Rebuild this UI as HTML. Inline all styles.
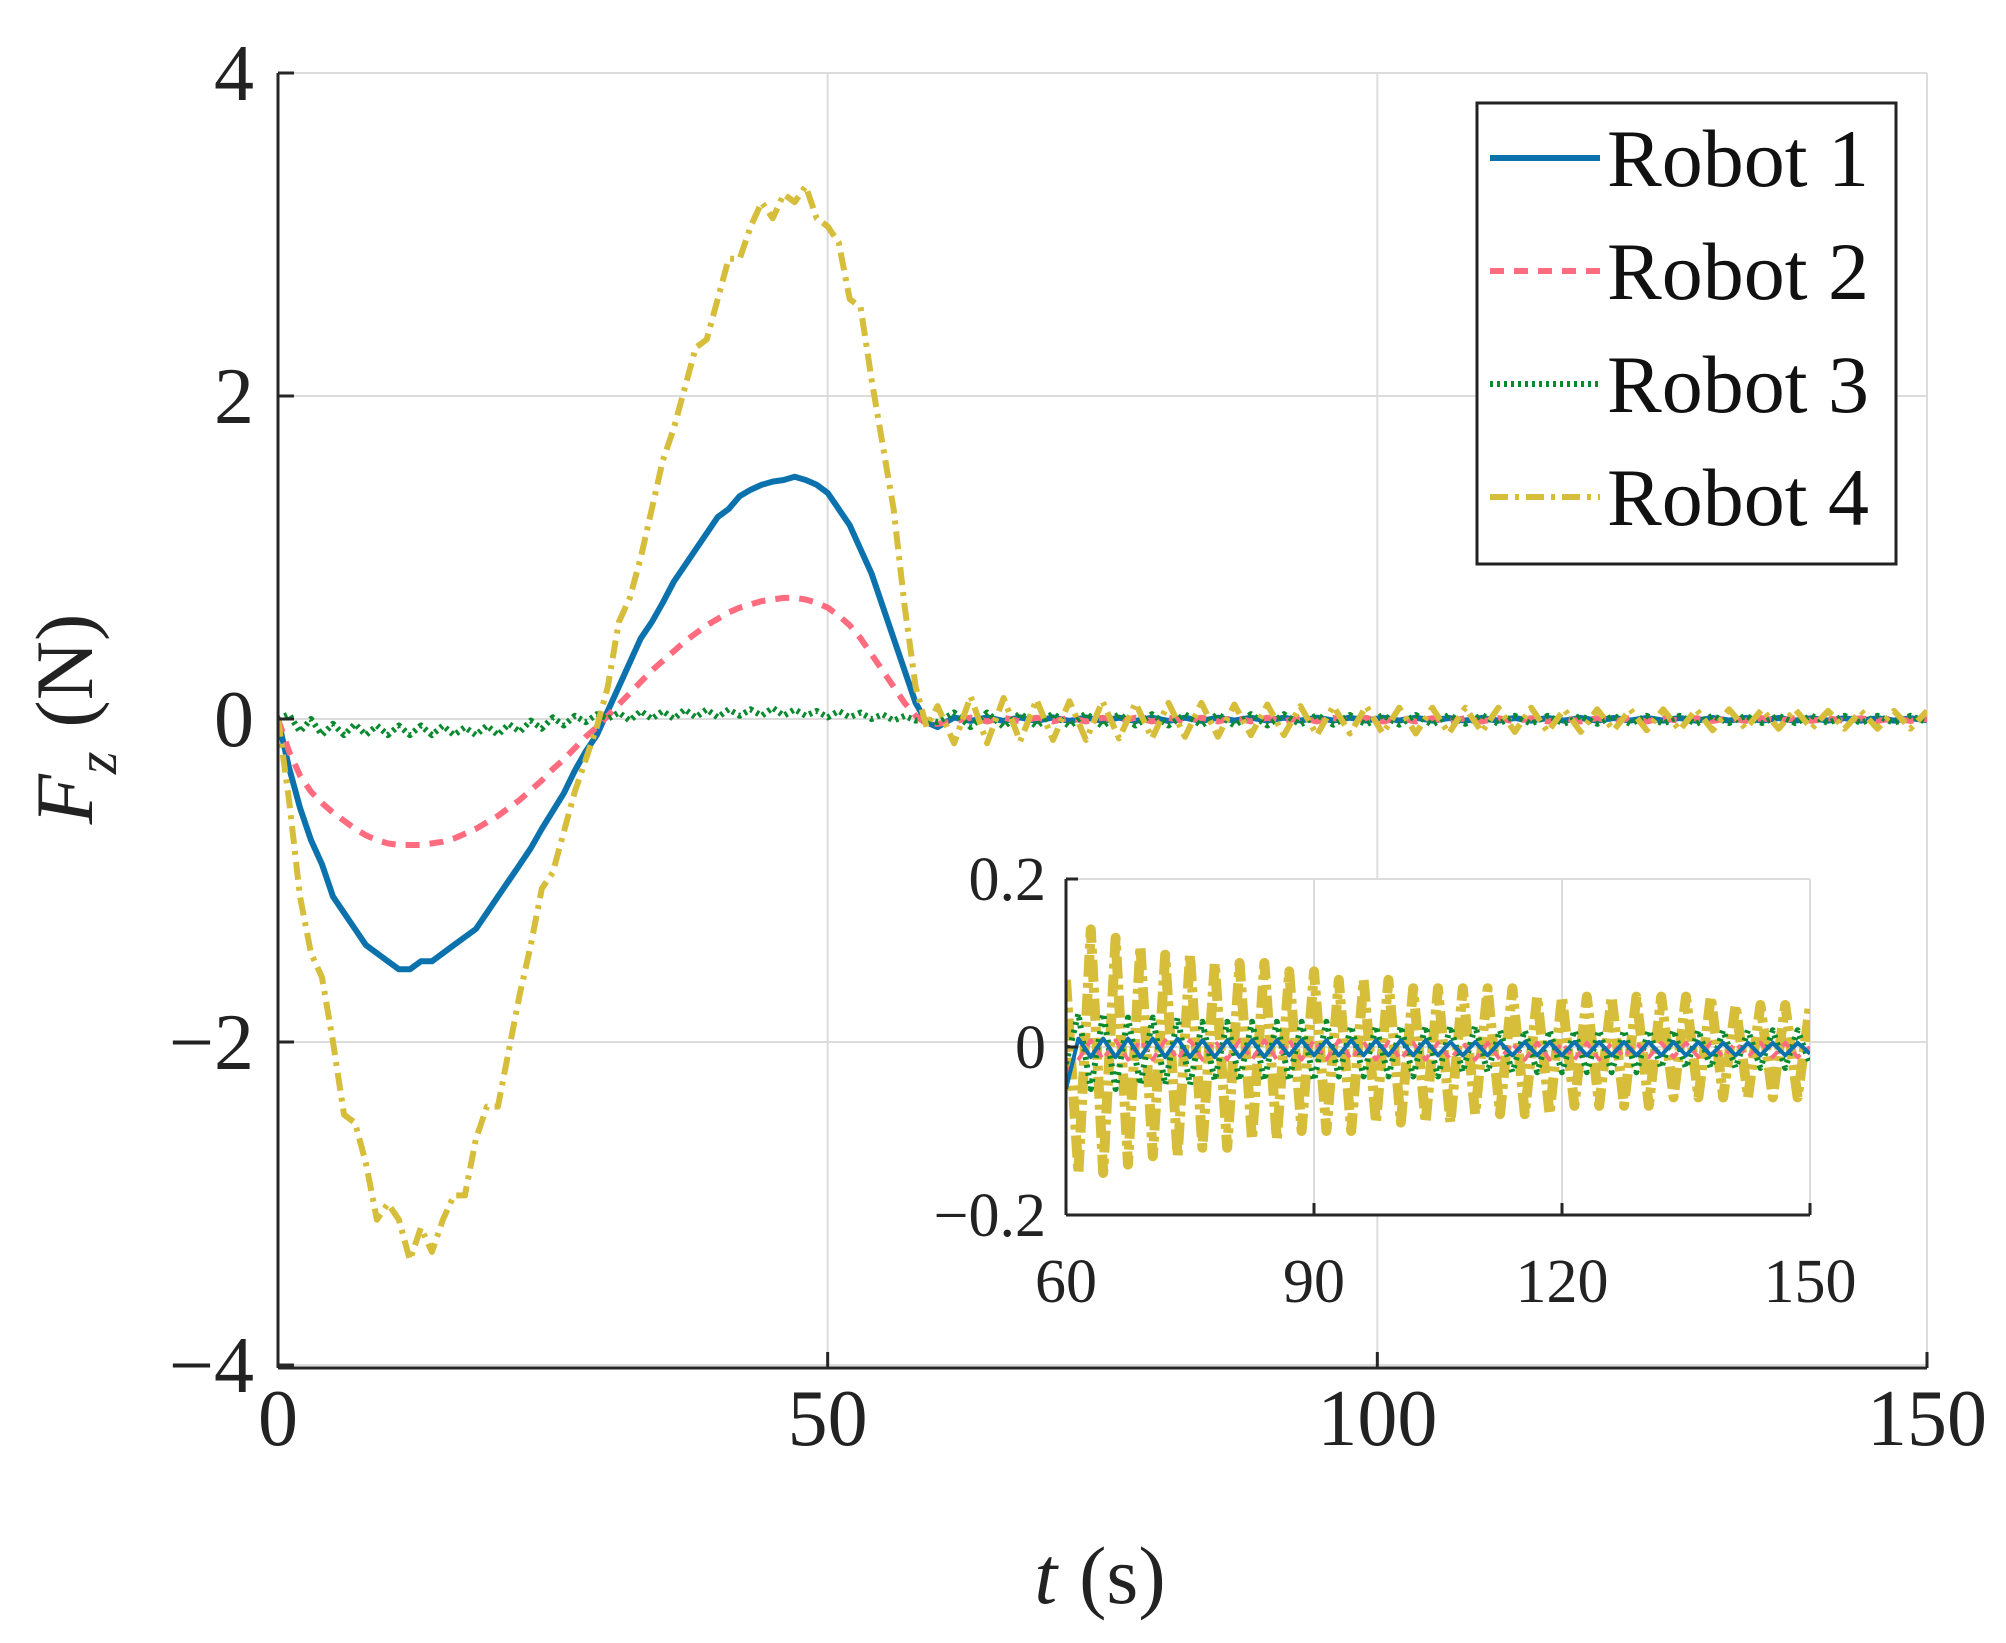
<!DOCTYPE html>
<html><head><meta charset="utf-8"><style>
html,body{margin:0;padding:0;background:#fff;}
svg{display:block;font-family:"Liberation Serif",serif;}
</style></head><body>
<svg id="chart" width="2006" height="1643" viewBox="0 0 2006 1643" xmlns="http://www.w3.org/2000/svg">
<defs>
<clipPath id="mainClip"><rect x="278" y="73" width="1649" height="1295"/></clipPath>
<clipPath id="insetClip"><rect x="1066" y="879" width="744" height="336"/></clipPath>
</defs>
<g id="main"></g>
<g id="inset"></g>
<g id="legend"></g>
</svg>
<script>
const tHead = [];
for (let i = 0; i <= 60; i++) tHead.push(i);
const robot1Head = [0,-0.3,-0.55,-0.75,-0.9,-1.1,-1.2,-1.3,-1.4,-1.45,-1.5,-1.55,-1.55,-1.5,-1.5,-1.45,-1.4,-1.35,-1.3,-1.2,-1.1,-1.0,-0.9,-0.8,-0.68,-0.57,-0.46,-0.32,-0.2,-0.1,0.05,0.2,0.35,0.5,0.6,0.72,0.85,0.95,1.05,1.15,1.25,1.3,1.38,1.42,1.45,1.47,1.48,1.5,1.48,1.45,1.4,1.3,1.2,1.05,0.9,0.7,0.5,0.3,0.1,-0.02,-0.05];
const robot2Head = [0,-0.2,-0.35,-0.45,-0.52,-0.58,-0.63,-0.68,-0.72,-0.75,-0.77,-0.78,-0.78,-0.78,-0.77,-0.76,-0.74,-0.71,-0.68,-0.64,-0.6,-0.55,-0.5,-0.44,-0.38,-0.31,-0.25,-0.18,-0.11,-0.05,0.02,0.09,0.16,0.23,0.3,0.36,0.42,0.48,0.53,0.58,0.62,0.66,0.69,0.71,0.73,0.74,0.75,0.75,0.74,0.72,0.69,0.64,0.58,0.5,0.4,0.3,0.2,0.1,0.02,-0.03,-0.03];
const robot3Head = [0,0.03,-0.08,0.0,-0.1,-0.03,-0.1,-0.03,-0.1,-0.04,-0.1,-0.04,-0.1,-0.04,-0.1,-0.04,-0.1,-0.05,-0.1,-0.04,-0.1,-0.03,-0.08,-0.01,-0.06,0.01,-0.04,0.02,-0.02,0.03,0.0,0.04,-0.01,0.05,0.0,0.05,0.0,0.06,0.01,0.06,0.01,0.06,0.02,0.06,0.02,0.07,0.02,0.06,0.02,0.05,0.01,0.05,0.01,0.04,0.0,0.03,-0.01,0.02,-0.01,0.0,-0.02];
const robot4Head = [0,-0.5,-1.1,-1.45,-1.6,-2.0,-2.45,-2.5,-2.75,-3.1,-3.0,-3.1,-3.35,-3.15,-3.3,-3.1,-2.95,-2.95,-2.6,-2.4,-2.4,-2.05,-1.7,-1.4,-1.05,-0.95,-0.7,-0.45,-0.25,-0.05,0.2,0.6,0.75,1.0,1.3,1.6,1.8,2.05,2.3,2.35,2.6,2.85,2.85,3.05,3.2,3.1,3.25,3.2,3.3,3.1,3.05,2.95,2.6,2.55,2.1,1.7,1.3,0.7,0.2,-0.05,0.08];
const tTail = [];
for (let i = 0; i <= 60; i++) tTail.push(60 + i * 1.5);
const robot1Tail = [-0.05,0.01,-0.012,0.01,-0.012,0.01,-0.012,0.01,-0.012,0.01,-0.012,0.008,-0.012,0.008,-0.012,0.008,-0.012,0.008,-0.01,0.008,-0.01,0.008,-0.01,0.008,-0.01,0.008,-0.01,0.008,-0.01,0.008,-0.01,0.006,-0.01,0.006,-0.01,0.006,-0.01,0.006,-0.01,0.006,-0.01,0.006,-0.01,0.006,-0.01,0.006,-0.01,0.006,-0.01,0.006,-0.01,0.006,-0.01,0.005,-0.01,0.005,-0.01,0.005,-0.01,0.005,-0.008];
const robot2Tail = [-0.03,-0.015,0.008,-0.015,0.008,-0.015,0.008,-0.015,0.008,-0.015,0.008,-0.015,0.008,-0.015,0.008,-0.015,0.008,-0.015,0.008,-0.015,0.008,-0.015,0.008,-0.015,0.006,-0.015,0.006,-0.015,0.005,-0.015,0.005,-0.015,0.005,-0.015,0.005,-0.015,0.005,-0.015,0.005,-0.015,0.005,-0.015,0.005,-0.015,0.005,-0.012,0.005,-0.012,0.005,-0.012,0.005,-0.012,0.005,-0.012,0.005,-0.012,0.005,-0.012,0.005,-0.012,0.0];
const robot3Tail = [-0.02,0.04,-0.05,0.04,-0.05,0.035,-0.045,0.035,-0.045,0.035,-0.045,0.03,-0.04,0.03,-0.04,0.03,-0.04,0.03,-0.04,0.03,-0.04,0.03,-0.035,0.025,-0.035,0.025,-0.035,0.025,-0.035,0.025,-0.035,0.025,-0.03,0.025,-0.03,0.02,-0.03,0.02,-0.03,0.02,-0.03,0.02,-0.03,0.02,-0.03,0.02,-0.03,0.02,-0.025,0.02,-0.025,0.02,-0.025,0.02,-0.025,0.02,-0.025,0.02,-0.025,0.02,-0.02];
const robot4Tail = [0.08,-0.15,0.14,-0.15,0.13,-0.14,0.12,-0.13,0.11,-0.13,0.11,-0.12,0.1,-0.12,0.1,-0.11,0.1,-0.11,0.09,-0.1,0.09,-0.1,0.08,-0.1,0.08,-0.09,0.08,-0.09,0.07,-0.09,0.07,-0.09,0.07,-0.08,0.07,-0.08,0.07,-0.08,0.06,-0.08,0.06,-0.07,0.06,-0.07,0.06,-0.07,0.06,-0.07,0.06,-0.06,0.06,-0.06,0.06,-0.06,0.05,-0.06,0.05,-0.06,0.05,-0.06,0.05];
const mainXTicks = [0,50,100,150];
const mainYTicks = [4,2,0,-2,-4];
const insetXTicks = [60,90,120,150];
const insetYTicks = [0.2,0,-0.2];
const seriesNames = ["Robot 1","Robot 2","Robot 3","Robot 4"];
const seriesColors = ["#0b72ad","#ff6b7f","#0a8a2e","#d6bd3a"];
const seriesDash = ["", "14 10", "3 4", "18 7 4 7"];

const NS = "http://www.w3.org/2000/svg";
function mk(tag, attrs, parent, text){
  const e = document.createElementNS(NS, tag);
  for (const k in attrs) e.setAttribute(k, attrs[k]);
  if (text !== undefined) e.textContent = text;
  parent.appendChild(e); return e;
}
const fullT = (a, b) => a.concat(b.slice(1));
const tAll = fullT(tHead, tTail);
const seriesVals = [fullT(robot1Head, robot1Tail), fullT(robot2Head, robot2Tail), fullT(robot3Head, robot3Tail), fullT(robot4Head, robot4Tail)];

const mx = v => 278 + (v - 0) / 150 * 1649;
const my = v => 719 - v / 4 * 646;
const main = document.getElementById('main');
mainXTicks.forEach(v => {
  const g = mk('line', {x1:mx(v), x2:mx(v), y1:73, y2:1368, stroke:'#dcdcdc', 'stroke-width':2}, main);
  
  
});
mainYTicks.forEach(v => {
  const g = mk('line', {x1:278, x2:1927, y1:my(v), y2:my(v), stroke:'#dcdcdc', 'stroke-width':2}, main);
  
  
});
const mainLines = mk('g', {'clip-path':'url(#mainClip)'}, main);
seriesVals.forEach((vals, si) => {
  const d = vals.map((v, i) => (i ? 'L' : 'M') + mx(tAll[i]).toFixed(1) + ' ' + my(v).toFixed(1)).join(' ');
  const p = mk('path', {d, fill:'none', stroke:seriesColors[si], 'stroke-width':6, 'stroke-dasharray':seriesDash[si], 'stroke-linejoin':'round'}, mainLines);
  
  
});
mk('line', {x1:278, x2:278, y1:73, y2:1368, stroke:'#262626', 'stroke-width':3}, main);
mk('line', {x1:278, x2:1927, y1:1368, y2:1368, stroke:'#262626', 'stroke-width':3}, main);
mainXTicks.forEach(v => {
  mk('line', {x1:mx(v), x2:mx(v), y1:1368, y2:1352, stroke:'#262626', 'stroke-width':3}, main);
  const t = mk('text', {x:mx(v), y:1445, 'font-size':80, 'text-anchor':'middle', fill:'#222'}, main, String(v));
  
  
});
mainYTicks.forEach(v => {
  mk('line', {x1:278, x2:294, y1:my(v), y2:my(v), stroke:'#262626', 'stroke-width':3}, main);
  const t = mk('text', {x:254, y:my(v) + 27, 'font-size':80, 'text-anchor':'end', fill:'#222'}, main, v < 0 ? '\u2212' + Math.abs(v) : String(v));
  
  
});
const xl = mk('text', {x:1100, y:1603, 'font-size':82, 'text-anchor':'middle', fill:'#222'}, main);
xl.innerHTML = '<tspan font-style="italic">t</tspan><tspan dx="22">(s)</tspan>';


const yl = mk('text', {x:0, y:0, 'font-size':82, 'text-anchor':'middle', fill:'#222', transform:'translate(92 719) rotate(-90)'}, main);
yl.innerHTML = '<tspan font-style="italic">F</tspan><tspan font-style="italic" font-size="58" dy="24">z</tspan><tspan dy="-24" dx="24">(N)</tspan>';



const ix = v => 1066 + (v - 60) / 90 * 744;
const iy = v => 1047 - v / 0.2 * 168;
const inset = document.getElementById('inset');
mk('rect', {x:1066, y:879, width:744, height:336, fill:'#fff'}, inset);
insetXTicks.forEach(v => {
  mk('line', {x1:ix(v), x2:ix(v), y1:879, y2:1215, stroke:'#dcdcdc', 'stroke-width':2}, inset);
});
insetYTicks.forEach(v => {
  mk('line', {x1:1066, x2:1810, y1:iy(v), y2:iy(v), stroke:'#dcdcdc', 'stroke-width':2}, inset);
});
const insetLines = mk('g', {'clip-path':'url(#insetClip)'}, inset);
const insetW = [4, 4, 6, 10];
const insetDash = ["", "10 7", "3 5", "22 6 5 6"];
[3, 2, 1, 0].forEach(si => {
  const vals = seriesVals[si];
  const pts = [];
  vals.forEach((v, i) => { if (tAll[i] >= 60) pts.push(ix(tAll[i]).toFixed(1) + ' ' + iy(v).toFixed(1)); });
  const p = mk('path', {d:'M' + pts.join(' L'), fill:'none', stroke:seriesColors[si], 'stroke-width':insetW[si], 'stroke-dasharray':insetDash[si], 'stroke-linejoin':'round'}, insetLines);
  
  
});
mk('line', {x1:1066, x2:1066, y1:879, y2:1215, stroke:'#262626', 'stroke-width':3}, inset);
mk('line', {x1:1066, x2:1810, y1:1215, y2:1215, stroke:'#262626', 'stroke-width':3}, inset);
insetXTicks.forEach(v => {
  mk('line', {x1:ix(v), x2:ix(v), y1:1215, y2:1203, stroke:'#262626', 'stroke-width':3}, inset);
  const t = mk('text', {x:ix(v), y:1302, 'font-size':62, 'text-anchor':'middle', fill:'#222'}, inset, String(v));
  
  
});
insetYTicks.forEach(v => {
  mk('line', {x1:1066, x2:1078, y1:iy(v), y2:iy(v), stroke:'#262626', 'stroke-width':3}, inset);
  const t = mk('text', {x:1046, y:iy(v) + 21, 'font-size':62, 'text-anchor':'end', fill:'#222'}, inset, v < 0 ? '\u2212' + Math.abs(v) : String(v));
  
  
});

const lg = document.getElementById('legend');
mk('rect', {x:1477, y:103, width:419, height:461, fill:'#fff', stroke:'#222', 'stroke-width':3}, lg);
seriesNames.forEach((n, i) => {
  const y = 158 + i * 113;
  const l = mk('line', {x1:1490, x2:1600, y1:y, y2:y, stroke:seriesColors[i], 'stroke-width':6, 'stroke-dasharray':seriesDash[i]}, lg);
  
  
  const t = mk('text', {x:1607, y:y + 28, 'font-size':82, fill:'#111'}, lg, n);
  
  
});
</script>
</body></html>
